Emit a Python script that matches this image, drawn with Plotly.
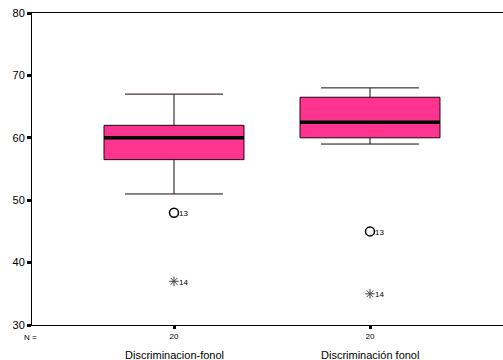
import plotly.graph_objects as go

# Box-plot summary statistics per variable
categories = ["Discriminacion-fonol", "Discriminación fonol"]
n_counts = [20, 20]
lower_fence = [51.0, 59.0]
q1 = [56.5, 60.0]
median = [60.0, 62.5]
q3 = [62.0, 66.5]
upper_fence = [67.0, 68.0]

# Outliers (circle) and extremes (asterisk), with case labels
outlier_vals = [48.0, 45.0]
outlier_ids = ["13", "13"]
extreme_vals = [37.0, 35.0]
extreme_ids = ["14", "14"]

PINK = "#ff3390"
BOX_W = 0.714
xpos = list(range(len(categories)))

fig = go.Figure()

fig.add_trace(go.Box(
    x=xpos, q1=q1, median=median, q3=q3,
    lowerfence=lower_fence, upperfence=upper_fence,
    width=BOX_W, whiskerwidth=0.7,
    fillcolor=PINK, line=dict(color="#1a0610", width=1),
    boxpoints=False, hoverinfo="skip", showlegend=False,
))

# Thick median bars
for x, m in zip(xpos, median):
    fig.add_trace(go.Scatter(
        x=[x - BOX_W / 2, x + BOX_W / 2], y=[m, m], mode="lines",
        line=dict(color="black", width=3.5), showlegend=False, hoverinfo="skip",
    ))

fig.add_trace(go.Scatter(
    x=xpos, y=outlier_vals, mode="markers",
    marker=dict(symbol="circle-open", size=9, color="black", line=dict(width=1.5)),
    showlegend=False, hoverinfo="skip", cliponaxis=False,
))
fig.add_trace(go.Scatter(
    x=xpos, y=extreme_vals, mode="markers",
    marker=dict(symbol="asterisk-open", size=8, color="#444444", line=dict(width=1)),
    showlegend=False, hoverinfo="skip", cliponaxis=False,
))

# Case-number labels beside the outlying points
for vals, ids in ((outlier_vals, outlier_ids), (extreme_vals, extreme_ids)):
    for x, v, t in zip(xpos, vals, ids):
        fig.add_annotation(x=x, y=v, text=t, showarrow=False, xanchor="left",
                           xshift=3, yshift=-1, font=dict(size=8))

fig.update_layout(
    width=503, height=360,
    margin=dict(l=32, r=0, t=13, b=35),
    paper_bgcolor="white", plot_bgcolor="white",
    font=dict(family="Liberation Sans, Arial", color="black"),
    xaxis=dict(
        range=[-0.7245, 1.6786], showgrid=False, zeroline=False,
        showline=True, linecolor="black", linewidth=1, mirror=True,
        tickvals=xpos, ticktext=[str(n) for n in n_counts],
        ticks="outside", ticklen=3, tickwidth=3, tickcolor="black",
        tickfont=dict(size=8),
    ),
    yaxis=dict(
        range=[30, 80], dtick=10, showgrid=False, zeroline=False,
        showline=True, linecolor="black", linewidth=1,
        ticks="outside", ticklen=4, tickwidth=3, tickcolor="black",
        tickfont=dict(size=11),
    ),
)

fig.add_annotation(x=0, xref="paper", y=0, yref="paper", text="N =",
                   showarrow=False, xanchor="center", yanchor="top",
                   xshift=-2, yshift=-6, font=dict(size=8))
for x, name in zip(xpos, categories):
    fig.add_annotation(x=x, y=0, xref="x", yref="paper", text=name,
                       showarrow=False, yanchor="top", yshift=-22,
                       font=dict(size=11))

fig.write_html("out.html")
